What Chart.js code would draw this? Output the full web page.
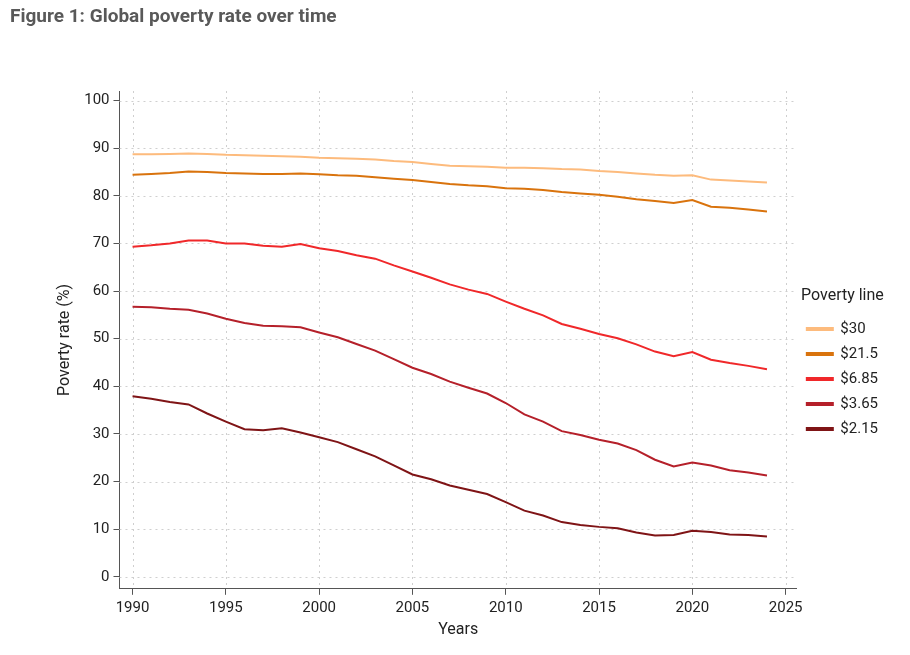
<!DOCTYPE html>
<html><head><meta charset="utf-8">
<script src="https://cdn.jsdelivr.net/npm/chart.js@4"></script>
<style>
body{margin:0;background:#fff;font-family:Roboto,"Open Sans",sans-serif;}
#t{position:absolute;left:10px;top:4px;font-size:19px;font-weight:bold;color:#595959;font-family:Roboto,sans-serif;}
#w{position:absolute;left:0;top:0;width:910px;height:655px;}
</style></head><body>
<div id="w"><canvas id="c"></canvas></div>
<div id="t">Figure 1: Global poverty rate over time</div>
<script>
const years = [];
for (let y = 1990; y <= 2024; y++) years.push(y);
const p30 = [88.7,88.7,88.8,88.9,88.8,88.6,88.5,88.4,88.3,88.2,88.0,87.9,87.8,87.6,87.3,87.1,86.7,86.3,86.2,86.1,85.9,85.9,85.8,85.6,85.5,85.2,85.0,84.7,84.4,84.2,84.3,83.4,83.2,83.0,82.8];
const p215 = [84.4,84.6,84.8,85.1,85.0,84.8,84.7,84.6,84.6,84.7,84.5,84.3,84.2,83.9,83.6,83.3,82.9,82.5,82.2,82.0,81.6,81.5,81.2,80.8,80.5,80.2,79.8,79.3,78.9,78.5,79.1,77.7,77.5,77.1,76.7];
const p685 = [69.3,69.6,70.0,70.6,70.6,70.0,70.0,69.5,69.3,69.9,69.0,68.4,67.5,66.8,65.4,64.1,62.8,61.4,60.3,59.4,57.8,56.3,54.9,53.1,52.1,51.0,50.1,48.8,47.3,46.3,47.2,45.6,44.9,44.3,43.6];
const p365 = [56.7,56.6,56.3,56.1,55.3,54.2,53.3,52.7,52.6,52.4,51.3,50.3,48.9,47.5,45.7,43.9,42.6,41.0,39.7,38.5,36.5,34.1,32.6,30.6,29.8,28.8,28.0,26.6,24.6,23.2,24.0,23.4,22.4,21.9,21.3];
const p215b = [37.9,37.4,36.7,36.2,34.3,32.6,31.0,30.8,31.2,30.3,29.3,28.3,26.8,25.3,23.4,21.5,20.5,19.2,18.3,17.4,15.7,13.9,12.9,11.5,10.9,10.5,10.2,9.3,8.7,8.8,9.7,9.4,8.9,8.8,8.5];
const seriesNames = ["$30","$21.5","$6.85","$3.65","$2.15"];
const seriesData = [p30,p215,p685,p365,p215b];
const colors = ["#fdbb7d","#d9730d","#f0282a","#b5202a","#7f1416"];
const xTicks = [1990,1995,2000,2005,2010,2015,2020,2025];
const yTicks = [0,10,20,30,40,50,60,70,80,90,100];

const ds = seriesNames.map((n,i)=>({
  label:n, data: years.map((y,j)=>({x:y,y:seriesData[i][j]})),
  borderColor:colors[i], backgroundColor:colors[i], borderWidth:2, pointRadius:0, tension:0
}));
const dotGrid = {
  id:'dotGrid',
  beforeDatasetsDraw(chart){
    const {ctx, chartArea:a, scales:{x,y}} = chart;
    ctx.save(); ctx.strokeStyle='#cfcfcf'; ctx.lineWidth=1; ctx.setLineDash([2,4]);
    xTicks.forEach(v=>{const px=Math.round(x.getPixelForValue(v))+0.5; ctx.beginPath(); ctx.moveTo(px,a.top); ctx.lineTo(px,a.bottom); ctx.stroke();});
    yTicks.forEach(v=>{const py=Math.round(y.getPixelForValue(v))+0.5; ctx.beginPath(); ctx.moveTo(a.left,py); ctx.lineTo(a.right,py); ctx.stroke();});
    ctx.restore();
  }
};
const grid = {drawOnChartArea:false, tickColor:'#555', tickLength:6, drawTicks:true};
new Chart(document.getElementById('c'),{
  type:'line',
  data:{datasets:ds},
  plugins:[dotGrid],
  options:{
    responsive:true, maintainAspectRatio:false, animation:false,
    layout:{padding:{top:91,left:51,right:22,bottom:11}},
    plugins:{
      legend:{position:'right',align:'center',
        title:{display:true,text:'Poverty line',color:'#222',font:{size:16,family:'Roboto'},padding:{top:0,bottom:4}},
        labels:{boxWidth:26,boxHeight:2,color:'#222',font:{size:15,family:'Roboto'},padding:10}},
      tooltip:{enabled:false}
    },
    scales:{
      x:{type:'linear',min:1989.3,max:2025.6,
        afterBuildTicks:a=>{a.ticks=xTicks.map(v=>({value:v}));},
        ticks:{color:'#222',font:{size:15,family:'Roboto'},padding:4,callback:v=>String(v)},
        grid:grid, border:{color:'#555',width:1},
        title:{display:true,text:'Years',color:'#222',font:{size:16,family:'Roboto'},padding:{top:0}}},
      y:{min:-2.5,max:102,
        afterBuildTicks:a=>{a.ticks=yTicks.map(v=>({value:v}));},
        ticks:{color:'#222',font:{size:15,family:'Roboto'},padding:4},
        grid:grid, border:{color:'#555',width:1},
        title:{display:true,text:'Poverty rate (%)',color:'#222',font:{size:16,family:'Roboto'},padding:{bottom:6}}}
    }
  }
});
</script></body></html>
